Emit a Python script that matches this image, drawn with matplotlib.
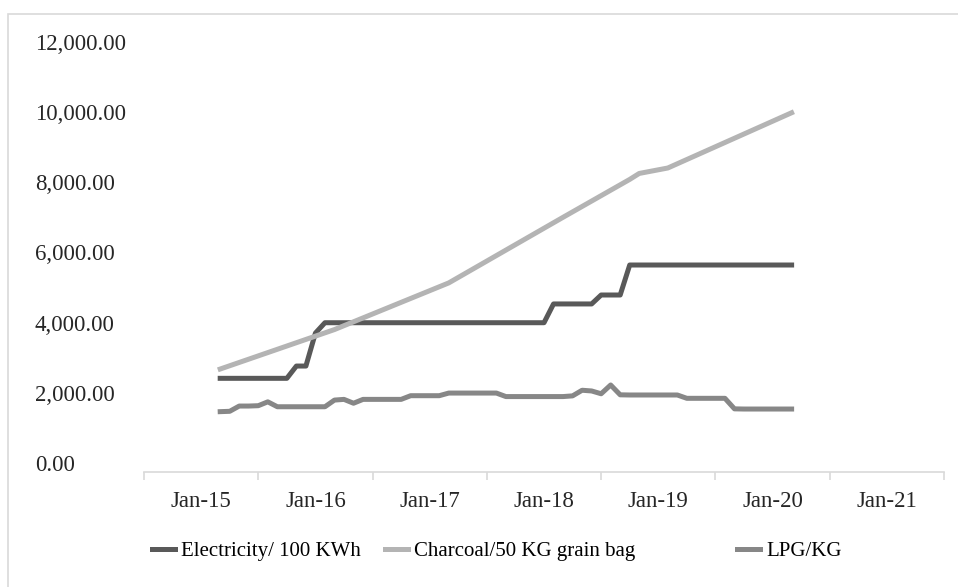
import matplotlib
matplotlib.use('Agg')
import matplotlib.pyplot as plt
from matplotlib.patches import Rectangle
from matplotlib.transforms import ScaledTranslation

# months counted from the first observation (Jan-15 label sits 2 months before it)
elec_months = list(range(61))
elec_values = ([2670] * 8 + [3020] * 2 + [3960] + [4255] * 24 +
               [4790] * 5 + [5045] * 3 + [5900] * 18)

charcoal_months = [0, 12, 24, 36, 43, 44, 47, 60]
charcoal_values = [2935, 4060, 5390, 7260, 8340, 8510, 8665, 10240]

lpg_months = list(range(61))
lpg_values = [1720, 1730, 1880, 1880, 1890, 2000, 1860, 1860, 1860, 1860,
              1860, 1860, 2050, 2070, 1960, 2070, 2070, 2070, 2070, 2070,
              2175, 2175, 2175, 2175, 2250, 2250, 2250, 2250, 2250, 2250,
              2150, 2150, 2150, 2150, 2150, 2150, 2150, 2170, 2330, 2310,
              2230, 2480, 2200, 2195, 2195, 2195, 2195, 2195, 2195, 2100,
              2100, 2100, 2100, 2100, 1800, 1795, 1795, 1795, 1795, 1795,
              1795]

year_labels = ['Jan-15', 'Jan-16', 'Jan-17', 'Jan-18', 'Jan-19', 'Jan-20', 'Jan-21']
y_ticks = [0, 2000, 4000, 6000, 8000, 10000, 12000]

series_names = ['Electricity/ 100 KWh', 'Charcoal/50 KG grain bag', 'LPG/KG']
series_colors = ['#595959', '#b4b4b4', '#878787']

W, H = 958, 587
plt.rcParams['font.family'] = ['Liberation Serif', 'DejaVu Serif']

fig = plt.figure(figsize=(W / 100, H / 100), dpi=100)

# light chart-area border (cropped on the right and bottom)
fig.patches.append(Rectangle((8 / W, -0.2), 1.5, 1.2 - 14 / H,
                             transform=fig.transFigure, fill=False,
                             edgecolor='#d9d9d9', linewidth=1.2))

ax = fig.add_axes([144 / W, 1 - 472 / H, 800 / W, 421 / H])

lw = 3.6
lines = []
for xs, ys, name, col in [(elec_months, elec_values, series_names[0], series_colors[0]),
                          (charcoal_months, charcoal_values, series_names[1], series_colors[1]),
                          (lpg_months, lpg_values, series_names[2], series_colors[2])]:
    ln, = ax.plot(xs, ys, color=col, lw=lw, solid_joinstyle='round', label=name)
    lines.append(ln)

ax.set_xlim(-8, 76)
ax.set_ylim(0, 12000)

# x axis: tick marks on year boundaries, labels centred between them
ax.set_xticks([-8 + 12 * k for k in range(8)])
ax.set_xticklabels([])
ax.set_xticks([-2 + 12 * k for k in range(7)], minor=True)
ax.set_xticklabels(year_labels, minor=True)
ax.tick_params(axis='x', which='major', direction='out', length=5.8,
               width=1.2, color='#d9d9d9')
ax.tick_params(axis='x', which='minor', length=0, pad=14,
               labelsize=16.5, labelcolor='#262626')

# y axis: left aligned labels far left of the plot
ax.set_yticks(y_ticks)
ax.set_yticklabels([f'{v:,.2f}' for v in y_ticks])
ax.tick_params(axis='y', length=0, pad=78.5, labelsize=16.5,
               labelcolor='#262626')
shift = ScaledTranslation(0, 9 / 100, fig.dpi_scale_trans)
for lab in ax.get_yticklabels():
    lab.set_horizontalalignment('left')
    lab.set_transform(lab.get_transform() + shift)

for side in ['top', 'right', 'left']:
    ax.spines[side].set_visible(False)
ax.spines['bottom'].set_color('#d9d9d9')
ax.spines['bottom'].set_linewidth(1.2)

# legend entries sit at fixed (uneven) slots, like the Excel legend
legend_x = [152, 385, 737]
for ln, lx in zip(lines, legend_x):
    fig.legend([ln], [ln.get_label()], loc='center left',
               bbox_to_anchor=(lx / W, 1 - 551 / H), frameon=False,
               fontsize=15, handlelength=1.1, handletextpad=0.3,
               borderpad=0, borderaxespad=0)

fig.savefig('out.png', dpi=100)
